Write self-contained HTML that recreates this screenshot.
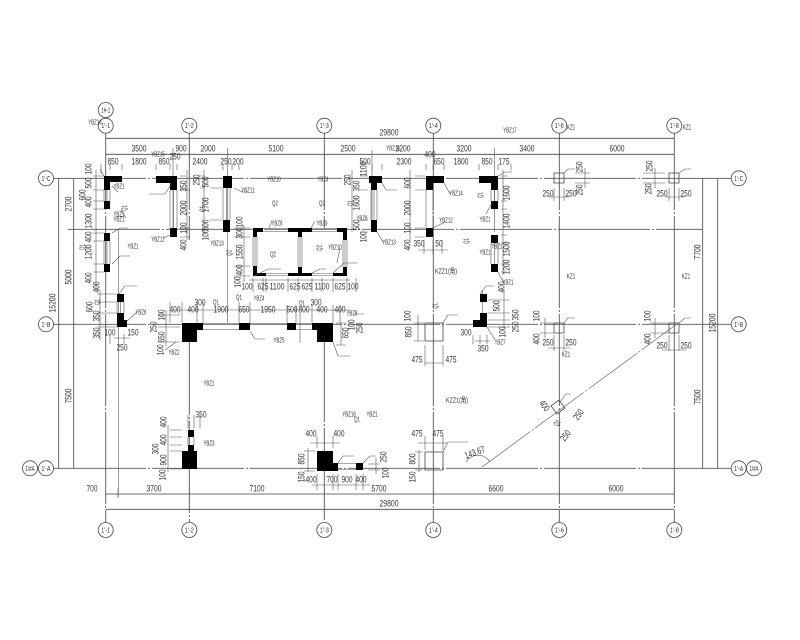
<!DOCTYPE html>
<html><head><meta charset="utf-8"><style>
html,body{margin:0;padding:0;background:#fff;width:800px;height:640px;overflow:hidden}
svg{display:block}
text{font-family:"Liberation Sans",sans-serif;font-size:9.5px;fill:#333;text-anchor:middle;dominant-baseline:central}
.s{font-size:7.5px}
.l{fill:none;stroke:#444;stroke-width:.8}
.g{fill:none;stroke:#555;stroke-width:.9}
.t{fill:none;stroke:#555;stroke-width:.6}
</style></head><body>
<svg width="800" height="640" viewBox="0 0 800 640" xmlns="http://www.w3.org/2000/svg">
<path class="g" stroke-dasharray="92 2 2 2" d="M54 178.300H731M68 229.300H703M54 324.300H731M54 468.300H731"/>
<path class="g" stroke-dasharray="92 2 2 2" d="M105.700 118V522M189.300 118V240M189.300 323V522M324.300 118V228M324.300 330V522M433.300 118V522M559.300 118V522M674.300 118V522"/>
<path class="l" d="M105.700 138.300H674.300M105.700 154.300H674.300M105.700 494H674.300M105.700 509.300H674.300M58.700 178.300V468.300M73.700 178.300V468.300M702.700 178.300V468.300M717.700 178.300V468.300"/>
<path class="t" d="M118.300 229V497M173 148V237M227.500 148V323M372 150V232M494.700 148V232M482.700 290V325M324.300 145V160M189.300 145V160"/>
<path class="t" stroke-dasharray="60 2 2 2" d="M482 467L677 324"/>
<path d="M104 176h18v6h-18zM104 176h6v14h-6zM104 201h6v8h-6zM104 233h6v8h-6zM104 264h6v8h-6zM156 176h21v7h-21zM170 176h7v14h-7zM170 228h7v9h-7zM223 176h9v12h-9zM223 220h7v12h-7zM253 228h10v4h-10zM253 228h4v9h-4zM253 273h13v3h-13zM253 266h4v10h-4zM288 228h24v4h-24zM298 232h4v5h-4zM298 267h4v6h-4zM288 273h24v3h-24zM337 228h10v4h-10zM343 228h4v12h-4zM333 273h14v3h-14zM343 267h4v9h-4zM369 176h13v7h-13zM371 176h6v14h-6zM371 220h6v12h-6zM426 176h18v7h-18zM426 176h7v14h-7zM426 228h7v9h-7zM479 176h19v7h-19zM491 176h7v14h-7zM491 201h7v8h-7zM491 235h7v8h-7zM491 264h7v8h-7zM117 294h7v8h-7zM117 313h7v14h-7zM117 320h10v7h-10zM182 323h21v7h-21zM182 323h15v19h-15zM239 323h11v7h-11zM287 323h9v7h-9zM312 323h21v7h-21zM317 323h16v19h-16zM473 320h14v7h-14zM480 313h7v14h-7zM480 294h7v8h-7zM188 430h6v7h-6zM188 445h6v6h-6zM182 451h15v18h-15zM317 451h16v20h-16zM333 463h5v8h-5zM356 463h7v7h-7z" fill="#000"/>
<path class="t" d="M104 190V201M110 190V201M104 241V264M110 241V264M107 190V201M107 241V264M170 190V228M177 190V228M173.500 190V228M223 188V220M230 188V220M226.500 188V220M371 190V220M377 190V220M374 190V220M426 190V228M433 190V228M491 190V201M498 190V201M494.500 190V201M491 243V264M498 243V264M494.500 243V264M117 302V313M124 302V313M120.500 302V313M253 237V266M257 237V266M255 237V266M298 237V267M302 237V267M300 237V267M343 240V267M347 240V267M345 240V267M263 228.500H288M263 231.500H288M312 228.500H337M312 231.500H337M266 273.500H288M266 275.500H288M312 273.500H333M312 275.500H333M203 323.500H239M203 329.500H239M250 323.500H287M296 323.500H312M296 329.500H312M338 463.500H356M338 469.500H356M188 437V445M194 437V445"/>
<path class="l" d="M425 323h18v18h-18zM425 452h18v18h-18zM554 173h10v10h-10zM669 173h10v10h-10zM554 323h10v10h-10zM669 323h10v10h-10z"/>
<rect class="l" x="553" y="402" width="10" height="10" transform="rotate(-36 558 407)"/>
<g class="l">
<circle cx="105.700" cy="110" r="7.500" fill="#fff"/><circle cx="105.700" cy="125.700" r="7.500" fill="#fff"/><circle cx="189.300" cy="125.700" r="7.500" fill="#fff"/><circle cx="324.300" cy="125.700" r="7.500" fill="#fff"/><circle cx="433.300" cy="125.700" r="7.500" fill="#fff"/><circle cx="559.300" cy="125.700" r="7.500" fill="#fff"/><circle cx="674.300" cy="125.700" r="7.500" fill="#fff"/>
<circle cx="105.700" cy="530" r="7.500" fill="#fff"/><circle cx="189.300" cy="530" r="7.500" fill="#fff"/><circle cx="324.300" cy="530" r="7.500" fill="#fff"/><circle cx="433.300" cy="530" r="7.500" fill="#fff"/><circle cx="559.300" cy="530" r="7.500" fill="#fff"/><circle cx="674.300" cy="530" r="7.500" fill="#fff"/>
<circle cx="46" cy="178.300" r="7.500" fill="#fff"/><circle cx="46" cy="324.300" r="7.500" fill="#fff"/><circle cx="46" cy="468.300" r="7.500" fill="#fff"/><circle cx="30" cy="468.300" r="7.500" fill="#fff"/>
<circle cx="738.700" cy="178.300" r="7.500" fill="#fff"/><circle cx="738.700" cy="324.300" r="7.500" fill="#fff"/><circle cx="738.700" cy="468.300" r="7.500" fill="#fff"/><circle cx="754" cy="468.300" r="7.500" fill="#fff"/>
</g>
<path class="t" d="M101 164V174M110 164V170M122 164V170M156 164V170M170 164V170M177 164V170M223 164V170M232 164V170M239 164V170M372 164V170M382 164V170M426 164V170M433 164V170M444 164V170M479 164V170M498 164V170M511 164V170M93 176H104M93 190H104M93 201H104M93 209H104M93 233H104M93 241H104M93 264H104M93 272H104M96 170V290M97 294H117M97 302H117M97 313H117M97 327H117M100 290V340M180 176H186M180 190H190M180 228H190M180 237H190M198 176H205M200 188H205M187 170V240M204 170V235M210 188H222M210 220H222M234 228H250M234 237H250M234 266H250M234 276H250M244 225V282M249 280H350M253 278V292M263 278V292M266 278V292M288 278V292M298 278V292M312 278V292M322 278V292M333 278V292M347 278V292M356 278V292M100 330V338M110 334V344M124 334V344M114 338H130M158 315H180M158 327H180M158 342H180M166 310V346M170 302V323M182 302V323M197 302V323M203 302V323M239 302V323M250 302V323M287 305V323M296 305V323M300 312V343M312 305V323M333 305V323M340 305V323M173 310H350"/>
<path class="t" d="M360 176H368M360 190H368M360 220H368M360 232H368M352 170V232M415 176H425M415 190H425M415 228H425M415 237H425M410 170V240M424 240V254M433 240V254M442 240V254M418 250H448M501 176H507M501 201H507M501 209H507M501 235H507M501 243H507M501 264H507M501 272H507M503 170V275M488 300H510M488 313H510M488 320H510M488 327H510M504 290V328M336 345H346M336 323H346M341 323V345M364 314H354M414 323H424M414 341H424M418 315V341M425 345V366M443 345V366M425 363H443M473 335V344M480 335V344M487 335V344M475 341H490"/>
<path class="t" d="M575 173H590M575 183H590M585 168V188M554 188V201M564 188V201M548 197H570M643 173H665M643 183H665M655 168V188M669 188V201M679 188V201M665 197H685M540 323H554M540 333H554M545 318V338M554 335V351M564 335V351M548 348H570M650 323H669M650 333H669M655 318V338M669 335V351M679 335V351M662 350H686"/>
<path class="t" d="M170 430H182M170 437H182M170 445H182M170 451H182M170 469H182M168 425V472M188 415V428M194 415V428M200 415V428M317 436V448M333 436V448M310 443H340M425 436V450M443 436V450M418 443H447M304 451H315M304 471H315M308 448V472M415 452H423M415 470H423M419 450V472M317 474V490M333 474V490M338 474V490M356 474V490M363 474V490M312 485H370M368 464H380M368 470H380M376 458V474M118 488V498M189.300 488V498M324.300 488V498M433.300 488V498M559.300 488V498M674.300 488V498"/>
<path class="t" d="M100 169L104 176M112 186L118 192M121 210L126 218M112 233L120 228H128M112 264L120 256H130M119 294L125 286H137M127 321L137 312M163 238L172 234M149 194H165L172 183M234 188L242 192H248M165 350L176 342M250 331L255 339H265M333 342L338 356H350M443 452L448 442H468M466 462A14 14 0 0 1 490 462M269 228L272 221M311 228L315 221M337 263L340 248M254 276L268 269H281M312 273L320 269H326M333 273L344 263H358M382 183L386 190H397M377 232L383 242M444 183L450 194M433 228L445 222M498 176L505 172H512M493 201L486 214M498 272L505 285M480 294L486 286H494M487 327L495 340M443 323L448 315H458M338 463L343 456H354M363 463L370 456H376M564 173L568 169H575M679 173L685 169H691M564 323L568 318H575M679 323L685 318H691M560 402L566 394H571"/>
<g>
<text class="s" textLength="9" lengthAdjust="spacingAndGlyphs" x="105.700" y="110">1#-1</text><text class="s" textLength="9" lengthAdjust="spacingAndGlyphs" x="105.700" y="125.700">1'-1</text><text class="s" textLength="9" lengthAdjust="spacingAndGlyphs" x="189.300" y="125.700">1'-2</text><text class="s" textLength="9" lengthAdjust="spacingAndGlyphs" x="324.300" y="125.700">1'-3</text><text class="s" textLength="9" lengthAdjust="spacingAndGlyphs" x="433.300" y="125.700">1'-4</text><text class="s" textLength="9" lengthAdjust="spacingAndGlyphs" x="559.300" y="125.700">1'-6</text><text class="s" textLength="9" lengthAdjust="spacingAndGlyphs" x="674.300" y="125.700">1'-8</text>
<text class="s" textLength="9" lengthAdjust="spacingAndGlyphs" x="105.700" y="530">1'-1</text><text class="s" textLength="9" lengthAdjust="spacingAndGlyphs" x="189.300" y="530">1'-2</text><text class="s" textLength="9" lengthAdjust="spacingAndGlyphs" x="324.300" y="530">1'-3</text><text class="s" textLength="9" lengthAdjust="spacingAndGlyphs" x="433.300" y="530">1'-4</text><text class="s" textLength="9" lengthAdjust="spacingAndGlyphs" x="559.300" y="530">1'-6</text><text class="s" textLength="9" lengthAdjust="spacingAndGlyphs" x="674.300" y="530">1'-8</text>
<text class="s" textLength="9" lengthAdjust="spacingAndGlyphs" x="46" y="178.300">1'-C</text><text class="s" textLength="9" lengthAdjust="spacingAndGlyphs" x="46" y="324.300">1'-B</text><text class="s" textLength="9" lengthAdjust="spacingAndGlyphs" x="46" y="468.300">1'-A</text><text class="s" textLength="9" lengthAdjust="spacingAndGlyphs" x="30" y="468.300">1/#A</text>
<text class="s" textLength="9" lengthAdjust="spacingAndGlyphs" x="738.700" y="178.300">1'-C</text><text class="s" textLength="9" lengthAdjust="spacingAndGlyphs" x="738.700" y="324.300">1'-B</text><text class="s" textLength="9" lengthAdjust="spacingAndGlyphs" x="738.700" y="468.300">1'-A</text><text class="s" textLength="9" lengthAdjust="spacingAndGlyphs" x="754" y="468.300">1/#A</text>
</g>
<g lengthAdjust="spacingAndGlyphs">
<text textLength="19" lengthAdjust="spacingAndGlyphs" x="389" y="133">29800</text><text textLength="19" lengthAdjust="spacingAndGlyphs" x="389" y="504">29800</text>
<text textLength="15" lengthAdjust="spacingAndGlyphs" x="139" y="149">3500</text><text textLength="11" lengthAdjust="spacingAndGlyphs" x="181" y="149">900</text><text textLength="15" lengthAdjust="spacingAndGlyphs" x="208" y="149">2000</text><text textLength="15" lengthAdjust="spacingAndGlyphs" x="276" y="149">5100</text><text textLength="15" lengthAdjust="spacingAndGlyphs" x="348" y="149">2500</text><text textLength="15" lengthAdjust="spacingAndGlyphs" x="403" y="149">3200</text><text textLength="15" lengthAdjust="spacingAndGlyphs" x="464" y="149">3200</text><text textLength="15" lengthAdjust="spacingAndGlyphs" x="527" y="149">3400</text><text textLength="15" lengthAdjust="spacingAndGlyphs" x="617" y="149">6000</text>
<text textLength="11" lengthAdjust="spacingAndGlyphs" x="175" y="157">250</text><text textLength="11" lengthAdjust="spacingAndGlyphs" x="113" y="162">850</text><text textLength="15" lengthAdjust="spacingAndGlyphs" x="139" y="162">1800</text><text textLength="11" lengthAdjust="spacingAndGlyphs" x="164" y="162">850</text><text textLength="15" lengthAdjust="spacingAndGlyphs" x="200" y="162">2400</text><text textLength="11" lengthAdjust="spacingAndGlyphs" x="226" y="162">250</text><text textLength="11" lengthAdjust="spacingAndGlyphs" x="238" y="162">200</text><text textLength="11" lengthAdjust="spacingAndGlyphs" x="365" y="162">500</text><text textLength="15" lengthAdjust="spacingAndGlyphs" x="404" y="162">2300</text><text textLength="11" lengthAdjust="spacingAndGlyphs" x="430" y="155">400</text><text textLength="11" lengthAdjust="spacingAndGlyphs" x="439" y="162">650</text><text textLength="15" lengthAdjust="spacingAndGlyphs" x="461" y="162">1800</text><text textLength="11" lengthAdjust="spacingAndGlyphs" x="487" y="162">850</text><text textLength="11" lengthAdjust="spacingAndGlyphs" x="504" y="162">175</text>
<text textLength="11" lengthAdjust="spacingAndGlyphs" x="92" y="489">700</text><text textLength="15" lengthAdjust="spacingAndGlyphs" x="154" y="489">3700</text><text textLength="15" lengthAdjust="spacingAndGlyphs" x="257" y="489">7100</text><text textLength="15" lengthAdjust="spacingAndGlyphs" x="379" y="489">5700</text><text textLength="15" lengthAdjust="spacingAndGlyphs" x="496" y="489">6600</text><text textLength="15" lengthAdjust="spacingAndGlyphs" x="616" y="489">6000</text>
<text textLength="11" lengthAdjust="spacingAndGlyphs" x="247" y="287">100</text><text textLength="11" lengthAdjust="spacingAndGlyphs" x="263" y="287">625</text><text textLength="15" lengthAdjust="spacingAndGlyphs" x="277" y="287">1100</text><text textLength="11" lengthAdjust="spacingAndGlyphs" x="295" y="287">625</text><text textLength="11" lengthAdjust="spacingAndGlyphs" x="307" y="287">625</text><text textLength="15" lengthAdjust="spacingAndGlyphs" x="322" y="287">1100</text><text textLength="11" lengthAdjust="spacingAndGlyphs" x="340" y="287">625</text><text textLength="11" lengthAdjust="spacingAndGlyphs" x="353" y="287">100</text>
<text textLength="11" lengthAdjust="spacingAndGlyphs" x="175" y="310">400</text><text textLength="11" lengthAdjust="spacingAndGlyphs" x="193" y="310">400</text><text textLength="11" lengthAdjust="spacingAndGlyphs" x="200" y="303">300</text><text textLength="15" lengthAdjust="spacingAndGlyphs" x="221" y="310">1900</text><text textLength="11" lengthAdjust="spacingAndGlyphs" x="244" y="310">650</text><text textLength="15" lengthAdjust="spacingAndGlyphs" x="268" y="310">1950</text><text textLength="11" lengthAdjust="spacingAndGlyphs" x="292" y="310">500</text><text textLength="11" lengthAdjust="spacingAndGlyphs" x="304" y="310">800</text><text textLength="11" lengthAdjust="spacingAndGlyphs" x="316" y="303">300</text><text textLength="11" lengthAdjust="spacingAndGlyphs" x="322" y="310">400</text><text textLength="11" lengthAdjust="spacingAndGlyphs" x="340" y="310">400</text>
<text textLength="11" lengthAdjust="spacingAndGlyphs" x="110" y="333">100</text><text textLength="11" lengthAdjust="spacingAndGlyphs" x="133" y="333">150</text><text textLength="11" lengthAdjust="spacingAndGlyphs" x="122" y="348">250</text><text textLength="11" lengthAdjust="spacingAndGlyphs" x="201" y="415">350</text><text textLength="11" lengthAdjust="spacingAndGlyphs" x="419" y="244">350</text><text textLength="7.500" lengthAdjust="spacingAndGlyphs" x="439" y="244">50</text><text textLength="11" lengthAdjust="spacingAndGlyphs" x="466" y="333">300</text><text textLength="11" lengthAdjust="spacingAndGlyphs" x="483" y="349">350</text><text textLength="11" lengthAdjust="spacingAndGlyphs" x="417" y="360">475</text><text textLength="11" lengthAdjust="spacingAndGlyphs" x="451" y="360">475</text><text textLength="11" lengthAdjust="spacingAndGlyphs" x="311" y="434">400</text><text textLength="11" lengthAdjust="spacingAndGlyphs" x="339" y="434">400</text><text textLength="11" lengthAdjust="spacingAndGlyphs" x="417" y="434">475</text><text textLength="11" lengthAdjust="spacingAndGlyphs" x="438" y="434">475</text><text textLength="11" lengthAdjust="spacingAndGlyphs" x="311" y="480">400</text><text textLength="11" lengthAdjust="spacingAndGlyphs" x="332" y="480">700</text><text textLength="11" lengthAdjust="spacingAndGlyphs" x="347" y="480">900</text><text textLength="11" lengthAdjust="spacingAndGlyphs" x="361" y="480">400</text>
<text textLength="11" lengthAdjust="spacingAndGlyphs" x="548" y="194">250</text><text textLength="11" lengthAdjust="spacingAndGlyphs" x="571" y="194">250</text><text textLength="11" lengthAdjust="spacingAndGlyphs" x="662" y="194">250</text><text textLength="11" lengthAdjust="spacingAndGlyphs" x="686" y="194">250</text><text textLength="11" lengthAdjust="spacingAndGlyphs" x="548" y="343">250</text><text textLength="11" lengthAdjust="spacingAndGlyphs" x="571" y="343">250</text><text textLength="11" lengthAdjust="spacingAndGlyphs" x="662" y="346">250</text><text textLength="11" lengthAdjust="spacingAndGlyphs" x="686" y="346">250</text>
</g>
<g>
<text textLength="11" lengthAdjust="spacingAndGlyphs" transform="rotate(-90 89 169)" x="89" y="169">100</text><text textLength="11" lengthAdjust="spacingAndGlyphs" transform="rotate(-90 89 183)" x="89" y="183">500</text><text textLength="11" lengthAdjust="spacingAndGlyphs" transform="rotate(-90 83 195)" x="83" y="195">600</text><text textLength="11" lengthAdjust="spacingAndGlyphs" transform="rotate(-90 89 202)" x="89" y="202">400</text><text textLength="15" lengthAdjust="spacingAndGlyphs" transform="rotate(-90 89 221)" x="89" y="221">1300</text><text textLength="11" lengthAdjust="spacingAndGlyphs" transform="rotate(-90 89 237)" x="89" y="237">400</text><text textLength="15" lengthAdjust="spacingAndGlyphs" transform="rotate(-90 89 252)" x="89" y="252">1200</text><text textLength="11" lengthAdjust="spacingAndGlyphs" transform="rotate(-90 89 278)" x="89" y="278">400</text><text textLength="11" lengthAdjust="spacingAndGlyphs" transform="rotate(-90 97 287)" x="97" y="287">400</text><text textLength="15" lengthAdjust="spacingAndGlyphs" transform="rotate(-90 69 204)" x="69" y="204">2700</text><text textLength="15" lengthAdjust="spacingAndGlyphs" transform="rotate(-90 69 277)" x="69" y="277">5000</text><text textLength="19" lengthAdjust="spacingAndGlyphs" transform="rotate(-90 53 303)" x="53" y="303">15200</text><text textLength="11" lengthAdjust="spacingAndGlyphs" transform="rotate(-90 90 307)" x="90" y="307">600</text><text textLength="11" lengthAdjust="spacingAndGlyphs" transform="rotate(-90 97 316)" x="97" y="316">350</text><text textLength="11" lengthAdjust="spacingAndGlyphs" transform="rotate(-90 97 333)" x="97" y="333">350</text><text textLength="15" lengthAdjust="spacingAndGlyphs" transform="rotate(-90 69 396)" x="69" y="396">7500</text>
<text textLength="11" lengthAdjust="spacingAndGlyphs" transform="rotate(-90 184 186)" x="184" y="186">350</text><text textLength="11" lengthAdjust="spacingAndGlyphs" transform="rotate(-90 197 180)" x="197" y="180">250</text><text textLength="11" lengthAdjust="spacingAndGlyphs" transform="rotate(-90 206 182)" x="206" y="182">500</text><text textLength="15" lengthAdjust="spacingAndGlyphs" transform="rotate(-90 184 208)" x="184" y="208">2000</text><text textLength="15" lengthAdjust="spacingAndGlyphs" transform="rotate(-90 206 205)" x="206" y="205">1700</text><text textLength="11" lengthAdjust="spacingAndGlyphs" transform="rotate(-90 184 228)" x="184" y="228">100</text><text textLength="11" lengthAdjust="spacingAndGlyphs" transform="rotate(-90 184 245)" x="184" y="245">400</text><text textLength="11" lengthAdjust="spacingAndGlyphs" transform="rotate(-90 206 225)" x="206" y="225">500</text><text textLength="11" lengthAdjust="spacingAndGlyphs" transform="rotate(-90 206 235)" x="206" y="235">100</text><text textLength="11" lengthAdjust="spacingAndGlyphs" transform="rotate(-90 240 222)" x="240" y="222">100</text><text textLength="11" lengthAdjust="spacingAndGlyphs" transform="rotate(-90 240 233)" x="240" y="233">300</text><text textLength="15" lengthAdjust="spacingAndGlyphs" transform="rotate(-90 240 252)" x="240" y="252">1550</text><text textLength="11" lengthAdjust="spacingAndGlyphs" transform="rotate(-90 240 270)" x="240" y="270">400</text><text textLength="11" lengthAdjust="spacingAndGlyphs" transform="rotate(-90 238 282)" x="238" y="282">100</text>
<text textLength="15" lengthAdjust="spacingAndGlyphs" transform="rotate(-90 364 169)" x="364" y="169">1100</text><text textLength="11" lengthAdjust="spacingAndGlyphs" transform="rotate(-90 348 180)" x="348" y="180">250</text><text textLength="11" lengthAdjust="spacingAndGlyphs" transform="rotate(-90 357 186)" x="357" y="186">350</text><text textLength="15" lengthAdjust="spacingAndGlyphs" transform="rotate(-90 357 203)" x="357" y="203">1600</text><text textLength="11" lengthAdjust="spacingAndGlyphs" transform="rotate(-90 357 225)" x="357" y="225">500</text><text textLength="11" lengthAdjust="spacingAndGlyphs" transform="rotate(-90 364 237)" x="364" y="237">100</text><text textLength="11" lengthAdjust="spacingAndGlyphs" transform="rotate(-90 408 183)" x="408" y="183">600</text><text textLength="15" lengthAdjust="spacingAndGlyphs" transform="rotate(-90 408 208)" x="408" y="208">2000</text><text textLength="11" lengthAdjust="spacingAndGlyphs" transform="rotate(-90 408 228)" x="408" y="228">100</text><text textLength="11" lengthAdjust="spacingAndGlyphs" transform="rotate(-90 408 245)" x="408" y="245">400</text>
<text textLength="15" lengthAdjust="spacingAndGlyphs" transform="rotate(-90 507 193)" x="507" y="193">1600</text><text textLength="15" lengthAdjust="spacingAndGlyphs" transform="rotate(-90 507 221)" x="507" y="221">1400</text><text textLength="15" lengthAdjust="spacingAndGlyphs" transform="rotate(-90 507 249)" x="507" y="249">1500</text><text textLength="15" lengthAdjust="spacingAndGlyphs" transform="rotate(-90 507 267)" x="507" y="267">1200</text><text textLength="11" lengthAdjust="spacingAndGlyphs" transform="rotate(-90 502 287)" x="502" y="287">400</text><text textLength="11" lengthAdjust="spacingAndGlyphs" transform="rotate(-90 497 306)" x="497" y="306">500</text><text textLength="11" lengthAdjust="spacingAndGlyphs" transform="rotate(-90 516 315)" x="516" y="315">350</text><text textLength="11" lengthAdjust="spacingAndGlyphs" transform="rotate(-90 516 327)" x="516" y="327">250</text><text textLength="11" lengthAdjust="spacingAndGlyphs" transform="rotate(-90 503 332)" x="503" y="332">100</text>
<text textLength="11" lengthAdjust="spacingAndGlyphs" transform="rotate(-90 162 315)" x="162" y="315">100</text><text textLength="11" lengthAdjust="spacingAndGlyphs" transform="rotate(-90 154 327)" x="154" y="327">250</text><text textLength="11" lengthAdjust="spacingAndGlyphs" transform="rotate(-90 162 337)" x="162" y="337">650</text><text textLength="11" lengthAdjust="spacingAndGlyphs" transform="rotate(-90 161 350)" x="161" y="350">100</text><text textLength="11" lengthAdjust="spacingAndGlyphs" transform="rotate(-90 164 422)" x="164" y="422">400</text><text textLength="11" lengthAdjust="spacingAndGlyphs" transform="rotate(-90 164 440)" x="164" y="440">400</text><text textLength="11" lengthAdjust="spacingAndGlyphs" transform="rotate(-90 156 449)" x="156" y="449">300</text><text textLength="11" lengthAdjust="spacingAndGlyphs" transform="rotate(-90 164 460)" x="164" y="460">900</text><text textLength="11" lengthAdjust="spacingAndGlyphs" transform="rotate(-90 163 475)" x="163" y="475">100</text>
<text textLength="11" lengthAdjust="spacingAndGlyphs" transform="rotate(-90 346 333)" x="346" y="333">650</text><text textLength="11" lengthAdjust="spacingAndGlyphs" transform="rotate(-90 352 325)" x="352" y="325">100</text><text textLength="11" lengthAdjust="spacingAndGlyphs" transform="rotate(-90 360 328)" x="360" y="328">250</text><text textLength="11" lengthAdjust="spacingAndGlyphs" transform="rotate(-90 408 316)" x="408" y="316">100</text><text textLength="11" lengthAdjust="spacingAndGlyphs" transform="rotate(-90 409 332)" x="409" y="332">850</text><text textLength="11" lengthAdjust="spacingAndGlyphs" transform="rotate(-90 302 459)" x="302" y="459">850</text><text textLength="11" lengthAdjust="spacingAndGlyphs" transform="rotate(-90 413 459)" x="413" y="459">800</text><text textLength="11" lengthAdjust="spacingAndGlyphs" transform="rotate(-90 302 477)" x="302" y="477">150</text><text textLength="11" lengthAdjust="spacingAndGlyphs" transform="rotate(-90 413 477)" x="413" y="477">150</text><text textLength="11" lengthAdjust="spacingAndGlyphs" transform="rotate(-90 384 457)" x="384" y="457">250</text><text textLength="11" lengthAdjust="spacingAndGlyphs" transform="rotate(-90 386 473)" x="386" y="473">100</text>
<text textLength="11" lengthAdjust="spacingAndGlyphs" transform="rotate(-90 580 167)" x="580" y="167">250</text><text textLength="11" lengthAdjust="spacingAndGlyphs" transform="rotate(-90 580 190)" x="580" y="190">250</text><text textLength="11" lengthAdjust="spacingAndGlyphs" transform="rotate(-90 650 166)" x="650" y="166">250</text><text textLength="11" lengthAdjust="spacingAndGlyphs" transform="rotate(-90 649 189)" x="649" y="189">250</text><text textLength="15" lengthAdjust="spacingAndGlyphs" transform="rotate(-90 698 252)" x="698" y="252">7700</text><text textLength="19" lengthAdjust="spacingAndGlyphs" transform="rotate(-90 713 323)" x="713" y="323">15200</text><text textLength="15" lengthAdjust="spacingAndGlyphs" transform="rotate(-90 698 397)" x="698" y="397">7500</text><text textLength="11" lengthAdjust="spacingAndGlyphs" transform="rotate(-90 537 316)" x="537" y="316">100</text><text textLength="11" lengthAdjust="spacingAndGlyphs" transform="rotate(-90 537 339)" x="537" y="339">400</text><text textLength="11" lengthAdjust="spacingAndGlyphs" transform="rotate(-90 648 316)" x="648" y="316">100</text><text textLength="11" lengthAdjust="spacingAndGlyphs" transform="rotate(-90 648 339)" x="648" y="339">400</text>
<text textLength="21" lengthAdjust="spacingAndGlyphs" transform="rotate(-20 475 453)" x="475" y="453">143.67</text><text textLength="11" lengthAdjust="spacingAndGlyphs" transform="rotate(54 544 406)" x="544" y="406">400</text><text textLength="11" lengthAdjust="spacingAndGlyphs" transform="rotate(-54 579 415)" x="579" y="415">250</text><text textLength="11" lengthAdjust="spacingAndGlyphs" transform="rotate(-54 566 436)" x="566" y="436">250</text>
</g>
<g>
<text class="s" textLength="13.500" lengthAdjust="spacingAndGlyphs" x="95" y="122">YBZ14</text><text class="s" textLength="13.500" lengthAdjust="spacingAndGlyphs" x="158" y="154">YBZ15</text><text class="s" textLength="11" lengthAdjust="spacingAndGlyphs" x="119" y="186">YBZ1</text><text class="s" textLength="13.500" lengthAdjust="spacingAndGlyphs" x="248" y="190">YBZ11</text><text class="s" textLength="13.500" lengthAdjust="spacingAndGlyphs" x="274" y="179">YBZ10</text><text class="s" textLength="11" lengthAdjust="spacingAndGlyphs" x="323" y="179">YBZ4</text><text class="s" textLength="11" lengthAdjust="spacingAndGlyphs" x="119" y="214">YBZ1</text><text class="s" textLength="11" lengthAdjust="spacingAndGlyphs" x="119" y="219">YBZ1</text><text class="s" textLength="11" lengthAdjust="spacingAndGlyphs" x="133" y="246">YBZ1</text><text class="s" textLength="13.500" lengthAdjust="spacingAndGlyphs" x="158" y="239">YBZ12</text><text class="s" textLength="13.500" lengthAdjust="spacingAndGlyphs" x="217" y="243">YBZ13</text><text class="s" textLength="11" lengthAdjust="spacingAndGlyphs" x="277" y="223">YBZ8</text><text class="s" textLength="11" lengthAdjust="spacingAndGlyphs" x="322" y="223">YBZ9</text><text class="s" textLength="13.500" lengthAdjust="spacingAndGlyphs" x="335" y="247">YBZ10</text><text class="s" textLength="11" lengthAdjust="spacingAndGlyphs" x="259" y="298">YBZ4</text><text class="s" textLength="11" lengthAdjust="spacingAndGlyphs" x="141" y="312">YBZ6</text><text class="s" textLength="11" lengthAdjust="spacingAndGlyphs" x="174" y="352">YBZ2</text><text class="s" textLength="11" lengthAdjust="spacingAndGlyphs" x="209" y="383">YBZ1</text><text class="s" textLength="11" lengthAdjust="spacingAndGlyphs" x="209" y="443">YBZ3</text><text class="s" textLength="11" lengthAdjust="spacingAndGlyphs" x="279" y="340">YBZ5</text><text class="s" textLength="11" lengthAdjust="spacingAndGlyphs" x="352" y="313">YBZ8</text><text class="s" textLength="13.500" lengthAdjust="spacingAndGlyphs" x="393" y="148">YBZ16</text><text class="s" textLength="13.500" lengthAdjust="spacingAndGlyphs" x="510" y="130">YBZ17</text><text class="s" textLength="11" lengthAdjust="spacingAndGlyphs" x="362" y="218">YBZ8</text><text class="s" textLength="13.500" lengthAdjust="spacingAndGlyphs" x="389" y="242">YBZ13</text><text class="s" textLength="13.500" lengthAdjust="spacingAndGlyphs" x="446" y="220">YBZ12</text><text class="s" textLength="13.500" lengthAdjust="spacingAndGlyphs" x="456" y="193">YBZ14</text><text class="s" textLength="11" lengthAdjust="spacingAndGlyphs" x="485" y="219">YBZ1</text><text class="s" textLength="11" lengthAdjust="spacingAndGlyphs" x="485" y="252">YBZ1</text><text class="s" textLength="11" lengthAdjust="spacingAndGlyphs" x="497" y="246">YBZ1</text><text class="s" textLength="11" lengthAdjust="spacingAndGlyphs" x="508" y="282">YBZ1</text><text class="s" textLength="11" lengthAdjust="spacingAndGlyphs" x="500" y="342">YBZ7</text><text class="s" textLength="13.500" lengthAdjust="spacingAndGlyphs" x="349" y="414">YBZ18</text><text class="s" textLength="11" lengthAdjust="spacingAndGlyphs" x="372" y="414">YBZ1</text>
<text class="s" textLength="22" lengthAdjust="spacingAndGlyphs" x="446" y="271" style="font-family:'Liberation Sans','Noto Sans CJK SC',sans-serif">KZZ1(角)</text><text class="s" textLength="22" lengthAdjust="spacingAndGlyphs" x="457" y="400" style="font-family:'Liberation Sans','Noto Sans CJK SC',sans-serif">KZZ1(角)</text>
<text class="s" textLength="8.500" lengthAdjust="spacingAndGlyphs" x="571" y="127">KZ1</text><text class="s" textLength="8.500" lengthAdjust="spacingAndGlyphs" x="687" y="127">KZ1</text><text class="s" textLength="8.500" lengthAdjust="spacingAndGlyphs" x="571" y="276">KZ1</text><text class="s" textLength="8.500" lengthAdjust="spacingAndGlyphs" x="686" y="276">KZ1</text><text class="s" textLength="8.500" lengthAdjust="spacingAndGlyphs" x="566" y="354">KZ1</text>
<text class="s" textLength="6" lengthAdjust="spacingAndGlyphs" x="275" y="203">Q2</text><text class="s" textLength="6" lengthAdjust="spacingAndGlyphs" x="322" y="203">Q2</text><text class="s" textLength="6" lengthAdjust="spacingAndGlyphs" x="273" y="254">Q2</text><text class="s" textLength="6" lengthAdjust="spacingAndGlyphs" x="239" y="297">Q1</text><text class="s" textLength="6" lengthAdjust="spacingAndGlyphs" x="216" y="302">Q1</text><text class="s" textLength="6" lengthAdjust="spacingAndGlyphs" x="302" y="303">Q1</text><text class="s" textLength="6" lengthAdjust="spacingAndGlyphs" x="357" y="419">Q1</text>
<text class="s" textLength="6" lengthAdjust="spacingAndGlyphs" transform="rotate(-90 124 208)" x="124" y="208">Q1</text><text class="s" textLength="6" lengthAdjust="spacingAndGlyphs" transform="rotate(-90 82 247)" x="82" y="247">Q1</text><text class="s" textLength="6" lengthAdjust="spacingAndGlyphs" transform="rotate(-90 97 302)" x="97" y="302">Q1</text><text class="s" textLength="6" lengthAdjust="spacingAndGlyphs" transform="rotate(-90 202 209)" x="202" y="209">Q1</text><text class="s" textLength="6" lengthAdjust="spacingAndGlyphs" transform="rotate(-90 229 253)" x="229" y="253">Q2</text><text class="s" textLength="6" lengthAdjust="spacingAndGlyphs" transform="rotate(-90 319 248)" x="319" y="248">Q2</text><text class="s" textLength="6" lengthAdjust="spacingAndGlyphs" transform="rotate(-90 350 203)" x="350" y="203">Q1</text><text class="s" textLength="6" lengthAdjust="spacingAndGlyphs" transform="rotate(-90 480 195)" x="480" y="195">Q1</text><text class="s" textLength="6" lengthAdjust="spacingAndGlyphs" transform="rotate(-90 466 241)" x="466" y="241">Q1</text><text class="s" textLength="6" lengthAdjust="spacingAndGlyphs" transform="rotate(-90 435 306)" x="435" y="306">Q1</text><text class="s" textLength="6" lengthAdjust="spacingAndGlyphs" transform="rotate(-54 557 423)" x="557" y="423">Q1</text>
</g>
</svg>
</body></html>
